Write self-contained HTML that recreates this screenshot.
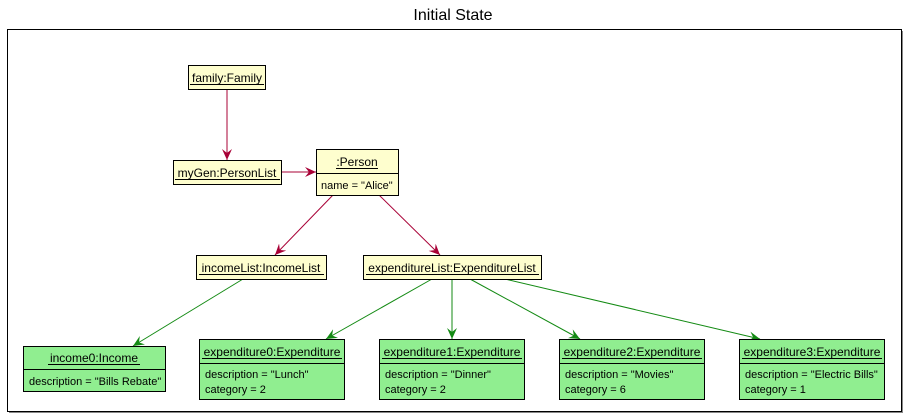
<!DOCTYPE html>
<html><head><meta charset="utf-8"><style>
body{margin:0;background:#fff}
svg{display:block}
text{font-family:"Liberation Sans",sans-serif}
</style></head><body>
<svg width="906" height="419" viewBox="0 0 906 419" xmlns="http://www.w3.org/2000/svg">
<defs>
<marker id="ar" viewBox="0 0 12 10" refX="11" refY="5" markerWidth="12" markerHeight="10" markerUnits="userSpaceOnUse" orient="auto">
<path d="M0,0 L11,5 L0,10 L4,5 Z" fill="#A80036"/></marker>
<marker id="ag" viewBox="0 0 12 10" refX="11" refY="5" markerWidth="12" markerHeight="10" markerUnits="userSpaceOnUse" orient="auto">
<path d="M0,0 L11,5 L0,10 L4,5 Z" fill="#138A13"/></marker>
</defs>
<text x="453" y="20" font-size="16" text-anchor="middle">Initial State</text>
<rect x="9" y="31" width="894" height="382" fill="#888"/>
<rect x="7.5" y="29.5" width="894" height="382" fill="#fff" stroke="#000"/>

<g stroke="#A80036" stroke-width="1" fill="none">
<line x1="227" y1="89" x2="227" y2="160" marker-end="url(#ar)"/>
<line x1="281" y1="172" x2="316" y2="172" marker-end="url(#ar)"/>
<line x1="333" y1="195" x2="275" y2="255" marker-end="url(#ar)"/>
<line x1="379" y1="195" x2="440" y2="255" marker-end="url(#ar)"/>
</g>
<g stroke="#138A13" stroke-width="1" fill="none">
<line x1="243" y1="279" x2="133" y2="346" marker-end="url(#ag)"/>
<line x1="432" y1="279" x2="326" y2="339" marker-end="url(#ag)"/>
<line x1="452" y1="279" x2="452" y2="339" marker-end="url(#ag)"/>
<line x1="470" y1="279" x2="580" y2="339" marker-end="url(#ag)"/>
<line x1="505" y1="279" x2="760" y2="339" marker-end="url(#ag)"/>
</g>

<g stroke="#000" stroke-width="1" font-size="12">
<rect x="188.5" y="65.5" width="77" height="24" fill="#FEFECE"/>
<rect x="173.5" y="160.5" width="108" height="24" fill="#FEFECE"/>
<rect x="316.5" y="149.5" width="82" height="46" fill="#FEFECE"/>
<line x1="316.5" y1="173.5" x2="398.5" y2="173.5"/>
<rect x="196.5" y="255.5" width="130" height="24" fill="#FEFECE"/>
<rect x="363.5" y="255.5" width="178" height="24" fill="#FEFECE"/>
<rect x="23.5" y="346.5" width="142" height="45" fill="#90EE90"/>
<line x1="23.5" y1="369.5" x2="165.5" y2="369.5"/>
<rect x="199.5" y="339.5" width="145" height="60" fill="#90EE90"/>
<line x1="199.5" y1="363.5" x2="344.5" y2="363.5"/>
<rect x="379.5" y="339.5" width="145" height="60" fill="#90EE90"/>
<line x1="379.5" y1="363.5" x2="524.5" y2="363.5"/>
<rect x="559.5" y="339.5" width="145" height="60" fill="#90EE90"/>
<line x1="559.5" y1="363.5" x2="704.5" y2="363.5"/>
<rect x="739.5" y="339.5" width="145" height="60" fill="#90EE90"/>
<line x1="739.5" y1="363.5" x2="884.5" y2="363.5"/>
</g>

<g font-size="12" text-anchor="middle" fill="#000">
<text x="227" y="82">family:Family</text>
<text x="227" y="177">myGen:PersonList</text>
<text x="357" y="166">:Person</text>
<text x="261" y="272">incomeList:IncomeList</text>
<text x="452" y="272">expenditureList:ExpenditureList</text>
<text x="94" y="362">income0:Income</text>
<text x="272" y="356">expenditure0:Expenditure</text>
<text x="452" y="356">expenditure1:Expenditure</text>
<text x="632" y="356">expenditure2:Expenditure</text>
<text x="812" y="356">expenditure3:Expenditure</text>
</g>
<g stroke="#000" stroke-width="1">
<line x1="190" y1="84.5" x2="264" y2="84.5"/>
<line x1="175" y1="179.5" x2="280" y2="179.5"/>
<line x1="336" y1="168.5" x2="378" y2="168.5"/>
<line x1="199" y1="274.5" x2="324" y2="274.5"/>
<line x1="366" y1="274.5" x2="539" y2="274.5"/>
<line x1="48" y1="364.5" x2="140" y2="364.5"/>
<line x1="202" y1="358.5" x2="342" y2="358.5"/>
<line x1="382" y1="358.5" x2="522" y2="358.5"/>
<line x1="562" y1="358.5" x2="702" y2="358.5"/>
<line x1="742" y1="358.5" x2="882" y2="358.5"/>
</g>
<g font-size="11" fill="#000">
<text x="321" y="189">name = "Alice"</text>
<text x="29" y="385">description = "Bills Rebate"</text>
<text x="205" y="378">description = "Lunch"</text>
<text x="205" y="393">category = 2</text>
<text x="385" y="378">description = "Dinner"</text>
<text x="385" y="393">category = 2</text>
<text x="565" y="378">description = "Movies"</text>
<text x="565" y="393">category = 6</text>
<text x="745" y="378">description = "Electric Bills"</text>
<text x="745" y="393">category = 1</text>
</g>
</svg>
</body></html>
